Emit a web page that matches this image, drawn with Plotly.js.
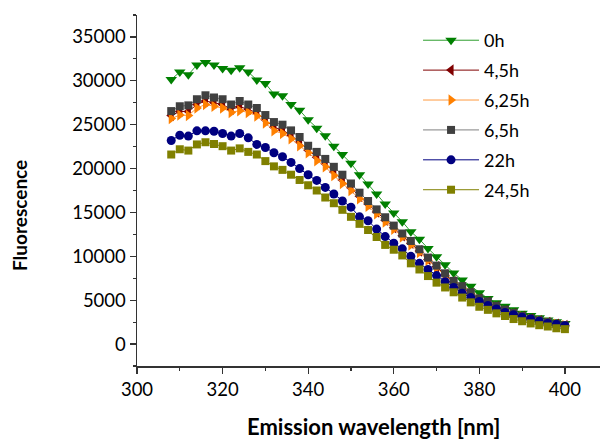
<!DOCTYPE html>
<html>
<head>
<meta charset="utf-8">
<script src="https://cdn.plot.ly/plotly-3.0.1.min.js"></script>
<style>html,body{margin:0;padding:0;background:#fff;}#chart{width:602px;height:439px;}</style>
</head>
<body>
<div id="chart"></div>
<script>
const wavelength = [308,310,312,314,316,318,320,322,324,326,328,330,332,334,336,338,340,342,344,346,348,350,352,354,356,358,360,362,364,366,368,370,372,374,376,378,380,382,384,386,388,390,392,394,396,398,400];

const seriesNames = ["0h","4,5h","6,25h","6,5h","22h","24,5h"];

const f0h = [30150,31000,30700,31800,32100,31800,31400,31200,31500,31000,30100,29700,28500,28300,27300,26650,25550,24600,23750,22550,21600,20600,19300,18250,17100,15950,14950,13950,12800,11950,10900,9950,9050,8100,7300,6600,5850,5200,4700,4300,3900,3500,3250,3000,2750,2550,2350];
const f4_5h = [26050,26500,26500,27300,27700,27500,27300,26750,27050,26750,26350,25550,24700,24400,23800,23000,22100,21300,20550,19600,18700,17800,16850,15950,15050,14100,13250,12350,11500,10600,9650,8800,7900,7100,6450,5800,5100,4750,4250,3800,3450,3150,2850,2650,2450,2250,2100];
const f6_25h = [25700,26100,26050,26900,27300,27100,26900,26400,26600,26400,26000,25200,24300,24000,23400,22600,21800,20900,20200,19200,18300,17500,16550,15700,14850,13900,13100,12200,11300,10450,9550,8700,7800,7000,6350,5700,5050,4650,4200,3750,3400,3100,2800,2600,2400,2250,2100];
const f6_5h = [26550,27100,27200,27900,28350,28100,27900,27300,27700,27300,26900,26100,25300,25000,24350,23600,22600,21900,21100,20200,19300,18300,17250,16300,15350,14450,13500,12600,11750,10800,9850,8940,8060,7200,6600,5900,5200,4850,4350,3900,3550,3200,2900,2700,2500,2300,2150];
const f22h = [23200,23800,23700,24300,24300,24250,24000,23700,24000,23500,22750,22400,21800,21350,20700,20000,19300,18650,17850,17100,16300,15600,14500,14050,13100,12250,11500,10850,10000,9200,8500,7800,7100,6450,5800,5300,4850,4400,4000,3600,3350,3050,2850,2600,2350,2250,2100];
const f24_5h = [21600,22200,22050,22750,23000,22800,22550,22050,22300,21900,21600,20850,20250,19850,19300,18700,18100,17500,16700,16050,15300,14500,13700,13000,12200,11300,10750,10100,9200,8500,7750,7000,6450,5900,5300,4750,4250,3900,3500,3200,2850,2600,2350,2150,2000,1800,1700];

const xTickVals = [300,320,340,360,380,400];
const yTickVals = [0,5000,10000,15000,20000,25000,30000,35000];

const values = [f0h, f4_5h, f6_25h, f6_5h, f22h, f24_5h];
const markerColors = ["#008000","#800000","#ff8000","#404040","#000080","#808000"];
const lineColors = ["#2e9e2e","#800000","#ff9a40","#808080","#000080","#808000"];
const symbols = ["triangle-down","triangle-left","triangle-right","square","circle","square"];
const sizes = [10,10,10,8,9,8];

const traces = values.map((v,i)=>({
  x: wavelength, y: v, name: seriesNames[i], type: "scatter", mode: "lines+markers",
  line: {color: lineColors[i], width: 1},
  marker: {color: markerColors[i], symbol: symbols[i], size: sizes[i], line: {width: 0}},
  legendgroup: "g"+i
}));

const tickFont = {family: "Lato, 'Open Sans', sans-serif", size: 18.5, color: "#000"};

const layout = {
  width: 602, height: 439,
  margin: {l: 137, r: 2, t: 15, b: 73},
  paper_bgcolor: "#fff", plot_bgcolor: "#fff",
  showlegend: true,
  legend: {x: 0.607, y: 0.98, xanchor: "left", yanchor: "top", bgcolor: "rgba(0,0,0,0)",
    font: {family: "Lato, 'Open Sans', sans-serif", size: 18, color: "#000"},
    traceorder: "grouped", tracegroupgap: 3.5, itemwidth: 56},
  xaxis: {range: [300, 408.2], tickvals: xTickVals, ticktext: xTickVals.map(String),
    ticks: "outside", ticklen: 6, tickwidth: 1.2, tickcolor: "#333",
    showline: true, linecolor: "#333", linewidth: 1.5, showgrid: false, zeroline: false,
    tickfont: tickFont,
    minor: {dtick: 10, tick0: 300, ticks: "outside", ticklen: 3, tickcolor: "#333", showgrid: false}},
  yaxis: {range: [-2500, 37500], tickvals: yTickVals, ticktext: yTickVals.map(String),
    ticks: "outside", ticklen: 6, tickwidth: 1.2, tickcolor: "#333",
    showline: true, linecolor: "#333", linewidth: 1.5, showgrid: false, zeroline: false,
    tickfont: tickFont,
    minor: {dtick: 2500, tick0: 0, ticks: "outside", ticklen: 3, tickcolor: "#333", showgrid: false}},
  annotations: [
    {text: "<b>Emission wavelength [nm]</b>", xref: "paper", yref: "paper", x: 0.51, y: -0.128,
     xanchor: "center", yanchor: "top", showarrow: false,
     font: {family: "Lato, 'Open Sans', sans-serif", size: 22, color: "#000"}},
    {text: "<b>Fluorescence</b>", xref: "paper", yref: "paper", x: -0.255, y: 0.43,
     xanchor: "center", yanchor: "middle", showarrow: false, textangle: -90,
     font: {family: "Lato, 'Open Sans', sans-serif", size: 19, color: "#000"}}
  ]
};

Plotly.newPlot("chart", traces, layout, {displayModeBar: false, staticPlot: true});
</script>
</body>
</html>
